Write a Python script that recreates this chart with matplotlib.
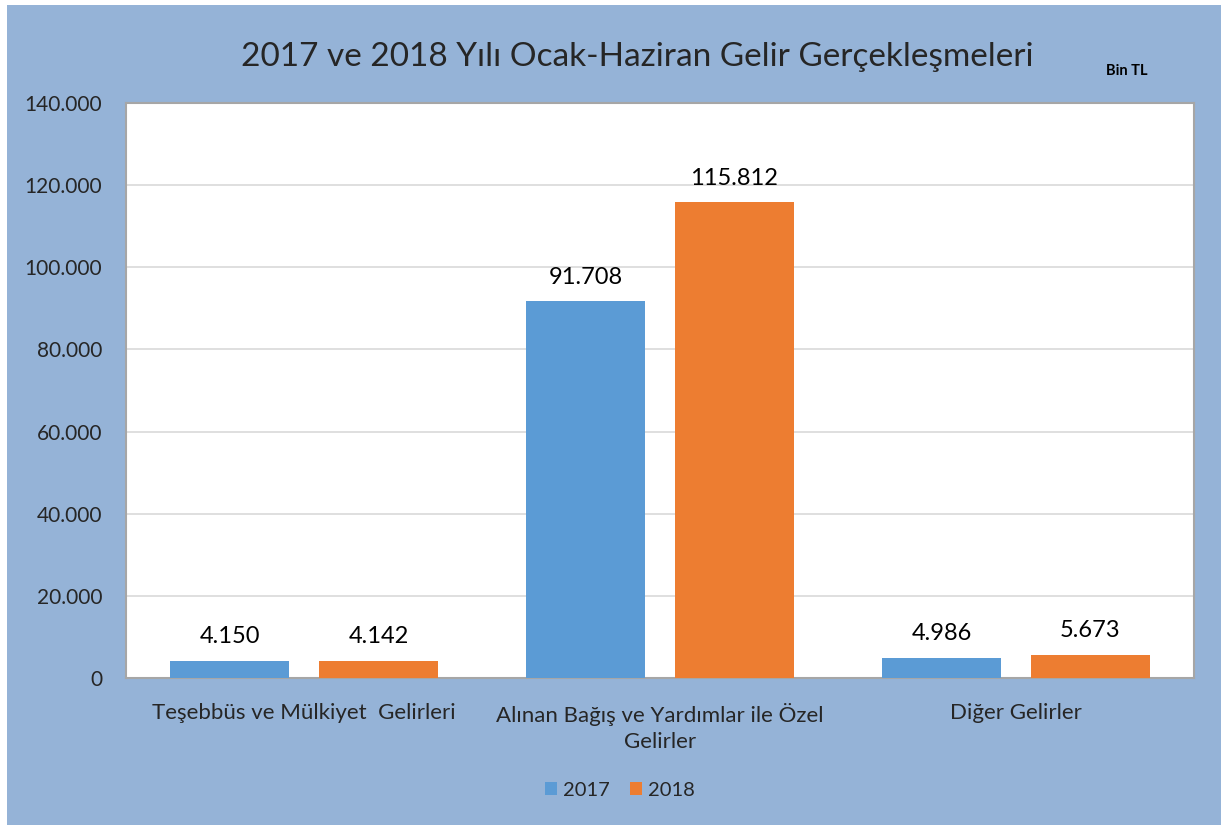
import matplotlib
matplotlib.use("Agg")
import matplotlib.pyplot as plt
import numpy as np
from matplotlib.patches import Rectangle

categories = ["Teşebbüs ve Mülkiyet  Gelirleri",
              "Alınan Bağış ve Yardımlar ile Özel\nGelirler",
              "Diğer Gelirler"]
series_names = ["2017", "2018"]
values_2017 = [4150, 91708, 4986]
values_2018 = [4142, 115812, 5673]
yticks = [0, 20000, 40000, 60000, 80000, 100000, 120000, 140000]

plt.rcParams['font.family'] = ['Lato', 'DejaVu Sans']

W, H = 1221, 825
fig = plt.figure(figsize=(W/100, H/100), dpi=100)
fig.patch.set_facecolor('white')
bg = Rectangle((7/W, 0), 1 - 7/W, 1 - 5/H, transform=fig.transFigure,
               facecolor='#95B3D7', edgecolor='none', zorder=-10)
fig.patches.append(bg)

left, right, top, bottom = 126, 1194, 103, 678
ax = fig.add_axes([left/W, 1 - bottom/H, (right-left)/W, (bottom-top)/H])
ax.set_facecolor('white')

x = np.arange(len(categories))
bw = 0.334
off = 0.209
c17, c18 = '#5B9BD5', '#ED7D31'
b1 = ax.bar(x - off, values_2017, bw, color=c17, label=series_names[0], zorder=3)
b2 = ax.bar(x + off, values_2018, bw, color=c18, label=series_names[1], zorder=3)

def fmt(v):
    return f"{v:,}".replace(",", ".")

for bars, vals in ((b1, values_2017), (b2, values_2018)):
    for r, v in zip(bars, vals):
        ax.text(r.get_x() + r.get_width()/2, v + 3300, fmt(v),
                ha='center', va='bottom', fontsize=17, color='black', zorder=4)

ax.set_xlim(-0.5, 2.5)
ax.set_ylim(0, 140000)
ax.set_yticks(yticks)
ax.set_yticklabels([fmt(t) for t in yticks], fontsize=15, color='#262626')
ax.yaxis.grid(True, color='#D9D9D9', linewidth=1.2, zorder=0)
ax.set_xticks(x)
ax.set_xticklabels(categories, fontsize=16, color='#262626', linespacing=1.35)
ax.tick_params(axis='both', length=0)
ax.tick_params(axis='x', pad=18)
ax.tick_params(axis='y', pad=17)
for s in ax.spines.values():
    s.set_color('#A6A6A6')
    s.set_linewidth(1.5)

fig.text(637/W, 1 - 57/H, "2017 ve 2018 Yılı Ocak-Haziran Gelir Gerçekleşmeleri",
         ha='center', va='center', fontsize=24, color='#262626')
fig.text(1127/W, 1 - 71/H, "Bin TL", ha='center', va='center',
         fontsize=10.5, fontweight='bold', color='black')

leg = fig.legend(loc='center', bbox_to_anchor=(620/W, 1 - 790/H), ncol=2,
                 frameon=False, fontsize=14.5, handlelength=0.6, handleheight=0.6,
                 handletextpad=0.3, columnspacing=1.0)
for t in leg.get_texts():
    t.set_color('#262626')

fig.savefig("out.png", dpi=100, facecolor=fig.get_facecolor())
